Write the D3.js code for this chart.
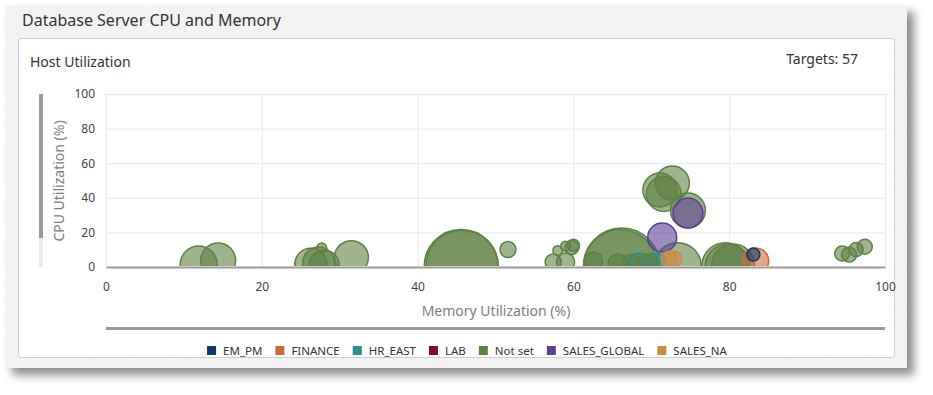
<!DOCTYPE html>
<html>
<head>
<meta charset="utf-8" />
<title>Database Server CPU and Memory</title>
<script src="https://cdn.jsdelivr.net/npm/d3@7"></script>
<style>
  body { margin: 0; background: #fff; }
  svg text { font-family: "Noto Sans", "Open Sans", sans-serif; }
</style>
</head>
<body>
<svg id="chart" width="933" height="395"></svg>
<script>
// Grupos de la leyenda y sus colores
const groups = ["EM_PM", "FINANCE", "HR_EAST", "LAB", "Not set", "SALES_GLOBAL", "SALES_NA"];
const groupColors = ["#0f3767", "#d0673a", "#2b8f8f", "#850a32", "#5f8045", "#5e3f92", "#c98c43"];

// Un valor por host
const hostGroup = [
  "Not set", "Not set", "Not set", "Not set", "Not set", "Not set", "Not set",
  "Not set", "Not set", "Not set", "Not set", "Not set", "Not set", "Not set",
  "Not set", "Not set", "Not set", "Not set", "Not set", "Not set", "Not set",
  "Not set", "Not set", "Not set", "Not set", "Not set", "Not set", "Not set",
  "Not set", "Not set", "Not set", "Not set", "Not set", "Not set",
  "HR_EAST", "HR_EAST", "SALES_NA", "SALES_NA",
  "SALES_GLOBAL", "SALES_GLOBAL", "FINANCE", "EM_PM"
];
const memoryUtil = [
  11.9, 14.4, 26.3, 27.3, 28.0, 27.7, 31.5,
  45.6, 45.7, 51.6, 57.4, 59.0, 58.0, 59.0,
  59.8, 60.0, 66.2, 73.4, 62.6, 65.7, 67.5,
  69.5, 71.1, 72.7, 71.6, 74.7, 79.5, 80.5,
  94.5, 95.4, 96.3, 97.4, 66.0, 79.8,
  68.5, 70.5, 72.3, 72.9,
  71.4, 74.7, 83.4, 83.1
];
const cpuUtil = [
  1.4, 3.8, 1.5, 2.2, 1.0, 11.0, 5.4,
  0.3, 0.5, 10.1, 2.9, 2.9, 9.5, 12.0,
  11.3, 12.5, 0.5, 0.5, 3.5, 2.0, 2.0,
  2.0, 44.5, 48.5, 42.2, 32.7, 0.5, 1.0,
  7.8, 7.2, 10.1, 11.7, 0.6, 0.4,
  0.5, 0.5, 4.6, 4.6,
  17.1, 31.2, 3.5, 7.2
];
const hostSize = [
  22.5, 20, 17, 17, 15, 1.6, 19,
  90, 85, 4.2, 4.2, 5.3, 1.6, 1.6,
  3.2, 2.4, 95, 36, 5.3, 6, 6,
  6, 19, 19, 20, 20, 36, 30,
  3.7, 3.7, 3.2, 3.7, 88, 33,
  11, 11, 4.2, 4.2,
  13.8, 14.8, 11.1, 2.8
];

const xTicks = [0, 20, 40, 60, 80, 100];
const yTicks = [0, 20, 40, 60, 80, 100];
const targetCount = 57;

const svg = d3.select("#chart");
const defs = svg.append("defs");

// Fondo rayado del panel
const hatch = defs.append("pattern")
  .attr("id", "hatch")
  .attr("width", 4).attr("height", 4)
  .attr("patternUnits", "userSpaceOnUse")
  .attr("patternTransform", "rotate(45)");
hatch.append("rect").attr("width", 4).attr("height", 4).attr("fill", "#f4f4f4");
hatch.append("line").attr("x1", 0).attr("y1", 0).attr("x2", 0).attr("y2", 4)
  .attr("stroke", "#ebebeb").attr("stroke-width", 1);

const shadow = defs.append("filter").attr("id", "shadow")
  .attr("x", "-5%").attr("y", "-5%").attr("width", "115%").attr("height", "125%");
shadow.append("feDropShadow")
  .attr("dx", 7).attr("dy", 7).attr("stdDeviation", 5)
  .attr("flood-color", "#000").attr("flood-opacity", 0.45);

// Panel exterior
svg.append("rect")
  .attr("x", 5).attr("y", 5).attr("width", 902).attr("height", 363)
  .attr("fill", "url(#hatch)")
  .attr("filter", "url(#shadow)");

svg.append("text")
  .attr("x", 22).attr("y", 26)
  .style("font-size", "16px").style("fill", "#333")
  .text("Database Server CPU and Memory");

// Tarjeta blanca
svg.append("rect")
  .attr("x", 18.5).attr("y", 38.5).attr("width", 876).attr("height", 319)
  .attr("rx", 3)
  .attr("fill", "#fff").attr("stroke", "#cfcfcf");

svg.append("text")
  .attr("x", 30).attr("y", 67)
  .style("font-size", "14px").style("fill", "#333")
  .text("Host Utilization");

svg.append("text")
  .attr("x", 858).attr("y", 64)
  .attr("text-anchor", "end")
  .style("font-size", "14px").style("fill", "#333")
  .text("Targets: " + targetCount);

// Escalas
const x = d3.scaleLinear().domain([0, 100]).range([106, 885]);
const y = d3.scaleLinear().domain([0, 100]).range([267, 94]);
const r = d3.scaleSqrt().domain([0, 100]).range([0, 39]);
const color = d3.scaleOrdinal().domain(groups).range(groupColors);

// Rejilla
const grid = svg.append("g");
grid.selectAll(".gx").data(xTicks).enter().append("line")
  .attr("x1", d => x(d) + 0.5).attr("x2", d => x(d) + 0.5)
  .attr("y1", y(100)).attr("y2", y(0))
  .attr("stroke", "#e5e9ef").attr("stroke-width", 1);
grid.selectAll(".gy").data(yTicks.slice(1)).enter().append("line")
  .attr("x1", x(0)).attr("x2", x(100))
  .attr("y1", d => y(d) + 0.5).attr("y2", d => y(d) + 0.5)
  .attr("stroke", "#e5e9ef").attr("stroke-width", 1);

// Eje X
const xAxis = svg.append("g")
  .attr("transform", `translate(0,${y(0)})`)
  .call(d3.axisBottom(x).tickValues(xTicks).tickSize(0).tickPadding(15));
xAxis.select(".domain").attr("stroke", "#9a9a9a").attr("stroke-width", 2);
xAxis.selectAll("text").style("font-size", "12px").style("fill", "#444");

// Eje Y
const yAxis = svg.append("g")
  .attr("transform", `translate(${x(0)},0)`)
  .call(d3.axisLeft(y).tickValues(yTicks).tickSize(0).tickPadding(11));
yAxis.select(".domain").remove();
yAxis.selectAll("text").style("font-size", "12px").style("fill", "#444");

// Titulos de los ejes
svg.append("text")
  .attr("transform", "translate(64,181) rotate(-90)")
  .attr("text-anchor", "middle")
  .style("font-size", "14px").style("fill", "#808080")
  .text("CPU Utilization (%)");

svg.append("text")
  .attr("x", 496).attr("y", 316)
  .attr("text-anchor", "middle")
  .style("font-size", "14px").style("fill", "#808080")
  .text("Memory Utilization (%)");

// Barras de desplazamiento
svg.append("rect").attr("x", 39).attr("y", y(0) - 29).attr("width", 4).attr("height", 29)
  .attr("fill", "#ededed");
svg.append("rect").attr("x", 39).attr("y", y(100)).attr("width", 4).attr("height", y(0) - 29 - y(100))
  .attr("fill", "#9a9a9a");
svg.append("rect").attr("x", x(0)).attr("y", 327).attr("width", x(100) - x(0)).attr("height", 3)
  .attr("fill", "#9a9a9a");

// Burbujas
defs.append("clipPath").attr("id", "plotClip")
  .append("rect")
  .attr("x", x(0)).attr("y", y(100))
  .attr("width", x(100) - x(0)).attr("height", y(0) - y(100) - 1);

const hosts = hostGroup.map((g, i) => ({
  group: g, mem: memoryUtil[i], cpu: cpuUtil[i], size: hostSize[i]
})).sort((a, b) => b.size - a.size);

svg.append("g")
  .attr("clip-path", "url(#plotClip)")
  .selectAll("circle")
  .data(hosts)
  .enter()
  .append("circle")
  .attr("cx", d => x(d.mem))
  .attr("cy", d => y(d.cpu))
  .attr("r", d => r(d.size))
  .attr("fill", d => color(d.group))
  .attr("fill-opacity", 0.6)
  .attr("stroke", d => color(d.group))
  .attr("stroke-width", 1.5);

// Leyenda
const legend = svg.append("g");
let lx = 0;
groups.forEach(g => {
  const item = legend.append("g").attr("transform", `translate(${lx},0)`);
  item.append("rect")
    .attr("x", 0).attr("y", 346).attr("width", 9).attr("height", 9)
    .attr("fill", color(g));
  const t = item.append("text")
    .attr("x", 16).attr("y", 355)
    .style("font-size", "11.5px").style("fill", "#333")
    .text(g);
  lx += 16 + t.node().getComputedTextLength() + 13;
});
const legendWidth = lx - 13;
legend.attr("transform", `translate(${467 - legendWidth / 2},0)`);
</script>
</body>
</html>
